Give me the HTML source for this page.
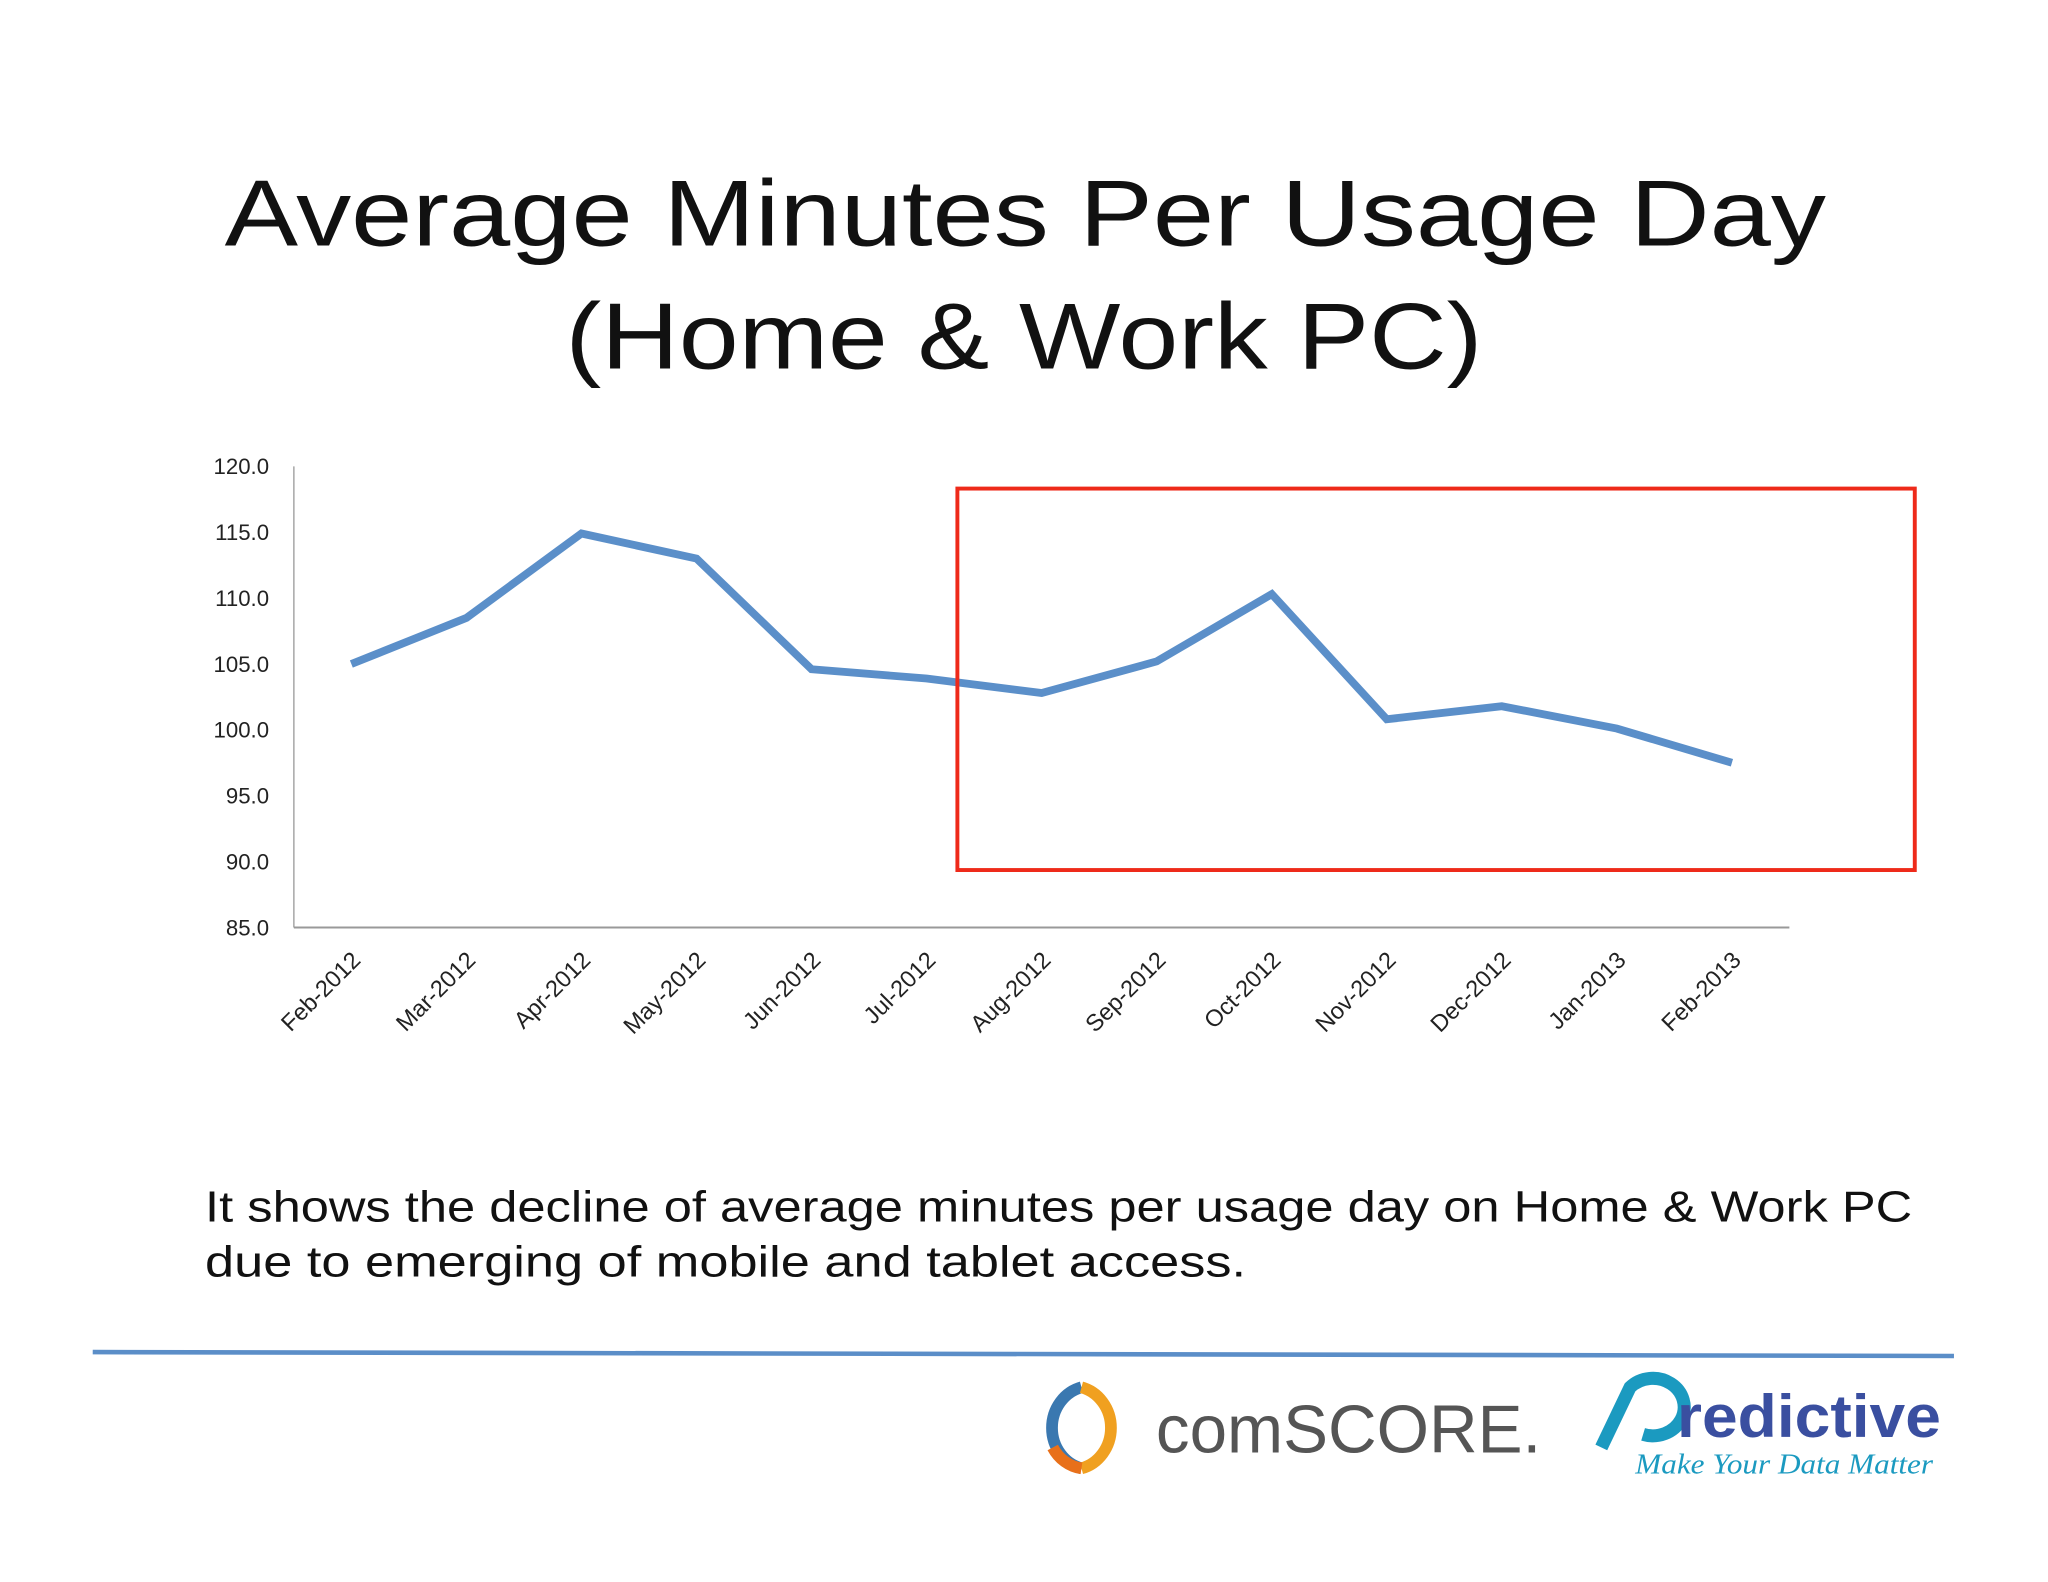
<!DOCTYPE html>
<html><head><meta charset="utf-8"><style>
html,body{margin:0;padding:0;background:#fff;}
svg{display:block;}
text{font-family:"Liberation Sans",sans-serif;}
</style></head><body>
<svg width="2048" height="1582" viewBox="0 0 1568 1211" preserveAspectRatio="none" xmlns="http://www.w3.org/2000/svg">
<rect width="1568" height="1211" fill="#fff"/>
<text x="785" y="188" text-anchor="middle" font-size="72" fill="#111" textLength="1226" lengthAdjust="spacingAndGlyphs">Average Minutes Per Usage Day</text>
<text x="784" y="282" text-anchor="middle" font-size="72" fill="#111" textLength="702" lengthAdjust="spacingAndGlyphs">(Home &amp; Work PC)</text>
<g id="chart"></g>
<rect x="733" y="374" width="733" height="292" fill="none" stroke="#ee2a1a" stroke-width="3"/>
<text x="157" y="935" font-size="33" fill="#111" textLength="1307" lengthAdjust="spacingAndGlyphs">It shows the decline of average minutes per usage day on Home &amp; Work PC</text>
<text x="157" y="977" font-size="33" fill="#111" textLength="797" lengthAdjust="spacingAndGlyphs">due to emerging of mobile and tablet access.</text>
<line x1="71" y1="1035" x2="1496" y2="1038" stroke="#5b8ec8" stroke-width="3.5"/>
<g>
<path d="M828,1062 A30,32 0 0 0 828,1124" fill="none" stroke="#3a78b0" stroke-width="9"/>
<path d="M828,1062 A30,32 0 0 1 828,1124" fill="none" stroke="#f0a020" stroke-width="9"/>
<path d="M806,1108 A30,32 0 0 0 828,1124" fill="none" stroke="#e8701a" stroke-width="9"/>
<text x="885" y="1112" font-size="52" fill="#555" textLength="295" lengthAdjust="spacingAndGlyphs">comSCORE.</text>
</g>
<g>
<path d="M1226,1108 L1248,1062 A24,22 0 1 1 1258,1098" fill="none" stroke="#1b9ac0" stroke-width="10"/>
<text x="1284" y="1100" font-size="46" font-weight="bold" fill="#3a4fa0" textLength="202" lengthAdjust="spacingAndGlyphs">redictive</text>
<text x="1252" y="1128" font-size="22" font-style="italic" fill="#1b9ac0" textLength="228" lengthAdjust="spacingAndGlyphs" style="font-family:'Liberation Serif',serif">Make Your Data Matter</text>
</g>
</svg>
<script>
const categories=["Feb-2012","Mar-2012","Apr-2012","May-2012","Jun-2012","Jul-2012","Aug-2012","Sep-2012","Oct-2012","Nov-2012","Dec-2012","Jan-2013","Feb-2013"];
const minutesValues=[105.0,108.5,114.9,113.0,104.6,103.9,102.8,105.2,110.3,100.8,101.8,100.1,97.5];
const yTicks=[85,90,95,100,105,110,115,120];
const yTickLabels=["85.0","90.0","95.0","100.0","105.0","110.0","115.0","120.0"];
const NS="http://www.w3.org/2000/svg";
const g=document.getElementById('chart');
const L=225,R=1370,T=357,B=710,yMin=85,yMax=120;
const band=(R-L)/categories.length;
function xPos(i){return L+band*(i+0.5);}
function yPos(v){return B-(v-yMin)/(yMax-yMin)*(B-T);}
function mk(tag,attrs){const e=document.createElementNS(NS,tag);for(const k in attrs)e.setAttribute(k,attrs[k]);g.appendChild(e);return e;}
let ax=mk('line',{x1:L,y1:T,x2:L,y2:B,stroke:'#999','stroke-width':1});


let bx=mk('line',{x1:L,y1:B,x2:R,y2:B,stroke:'#999','stroke-width':1.5});


yTicks.forEach((v,i)=>{
 const t=mk('text',{x:206,y:yPos(v)+6,'text-anchor':'end','font-size':17,fill:'#222'});
 t.textContent=yTickLabels[i];
 
 
});
categories.forEach((c,i)=>{
 const x=xPos(i)+8,y=736;
 const t=mk('text',{x:x,y:y,'text-anchor':'end','font-size':18,fill:'#222',transform:`rotate(-45 ${x} ${y})`});
 t.textContent=c;
 
 
});
const pts=minutesValues.map((v,i)=>xPos(i).toFixed(1)+','+yPos(v).toFixed(1)).join(' ');
const pl=mk('polyline',{points:pts,fill:'none',stroke:'#5b8fc9','stroke-width':6,'stroke-linejoin':'miter'});


</script>
</body></html>
